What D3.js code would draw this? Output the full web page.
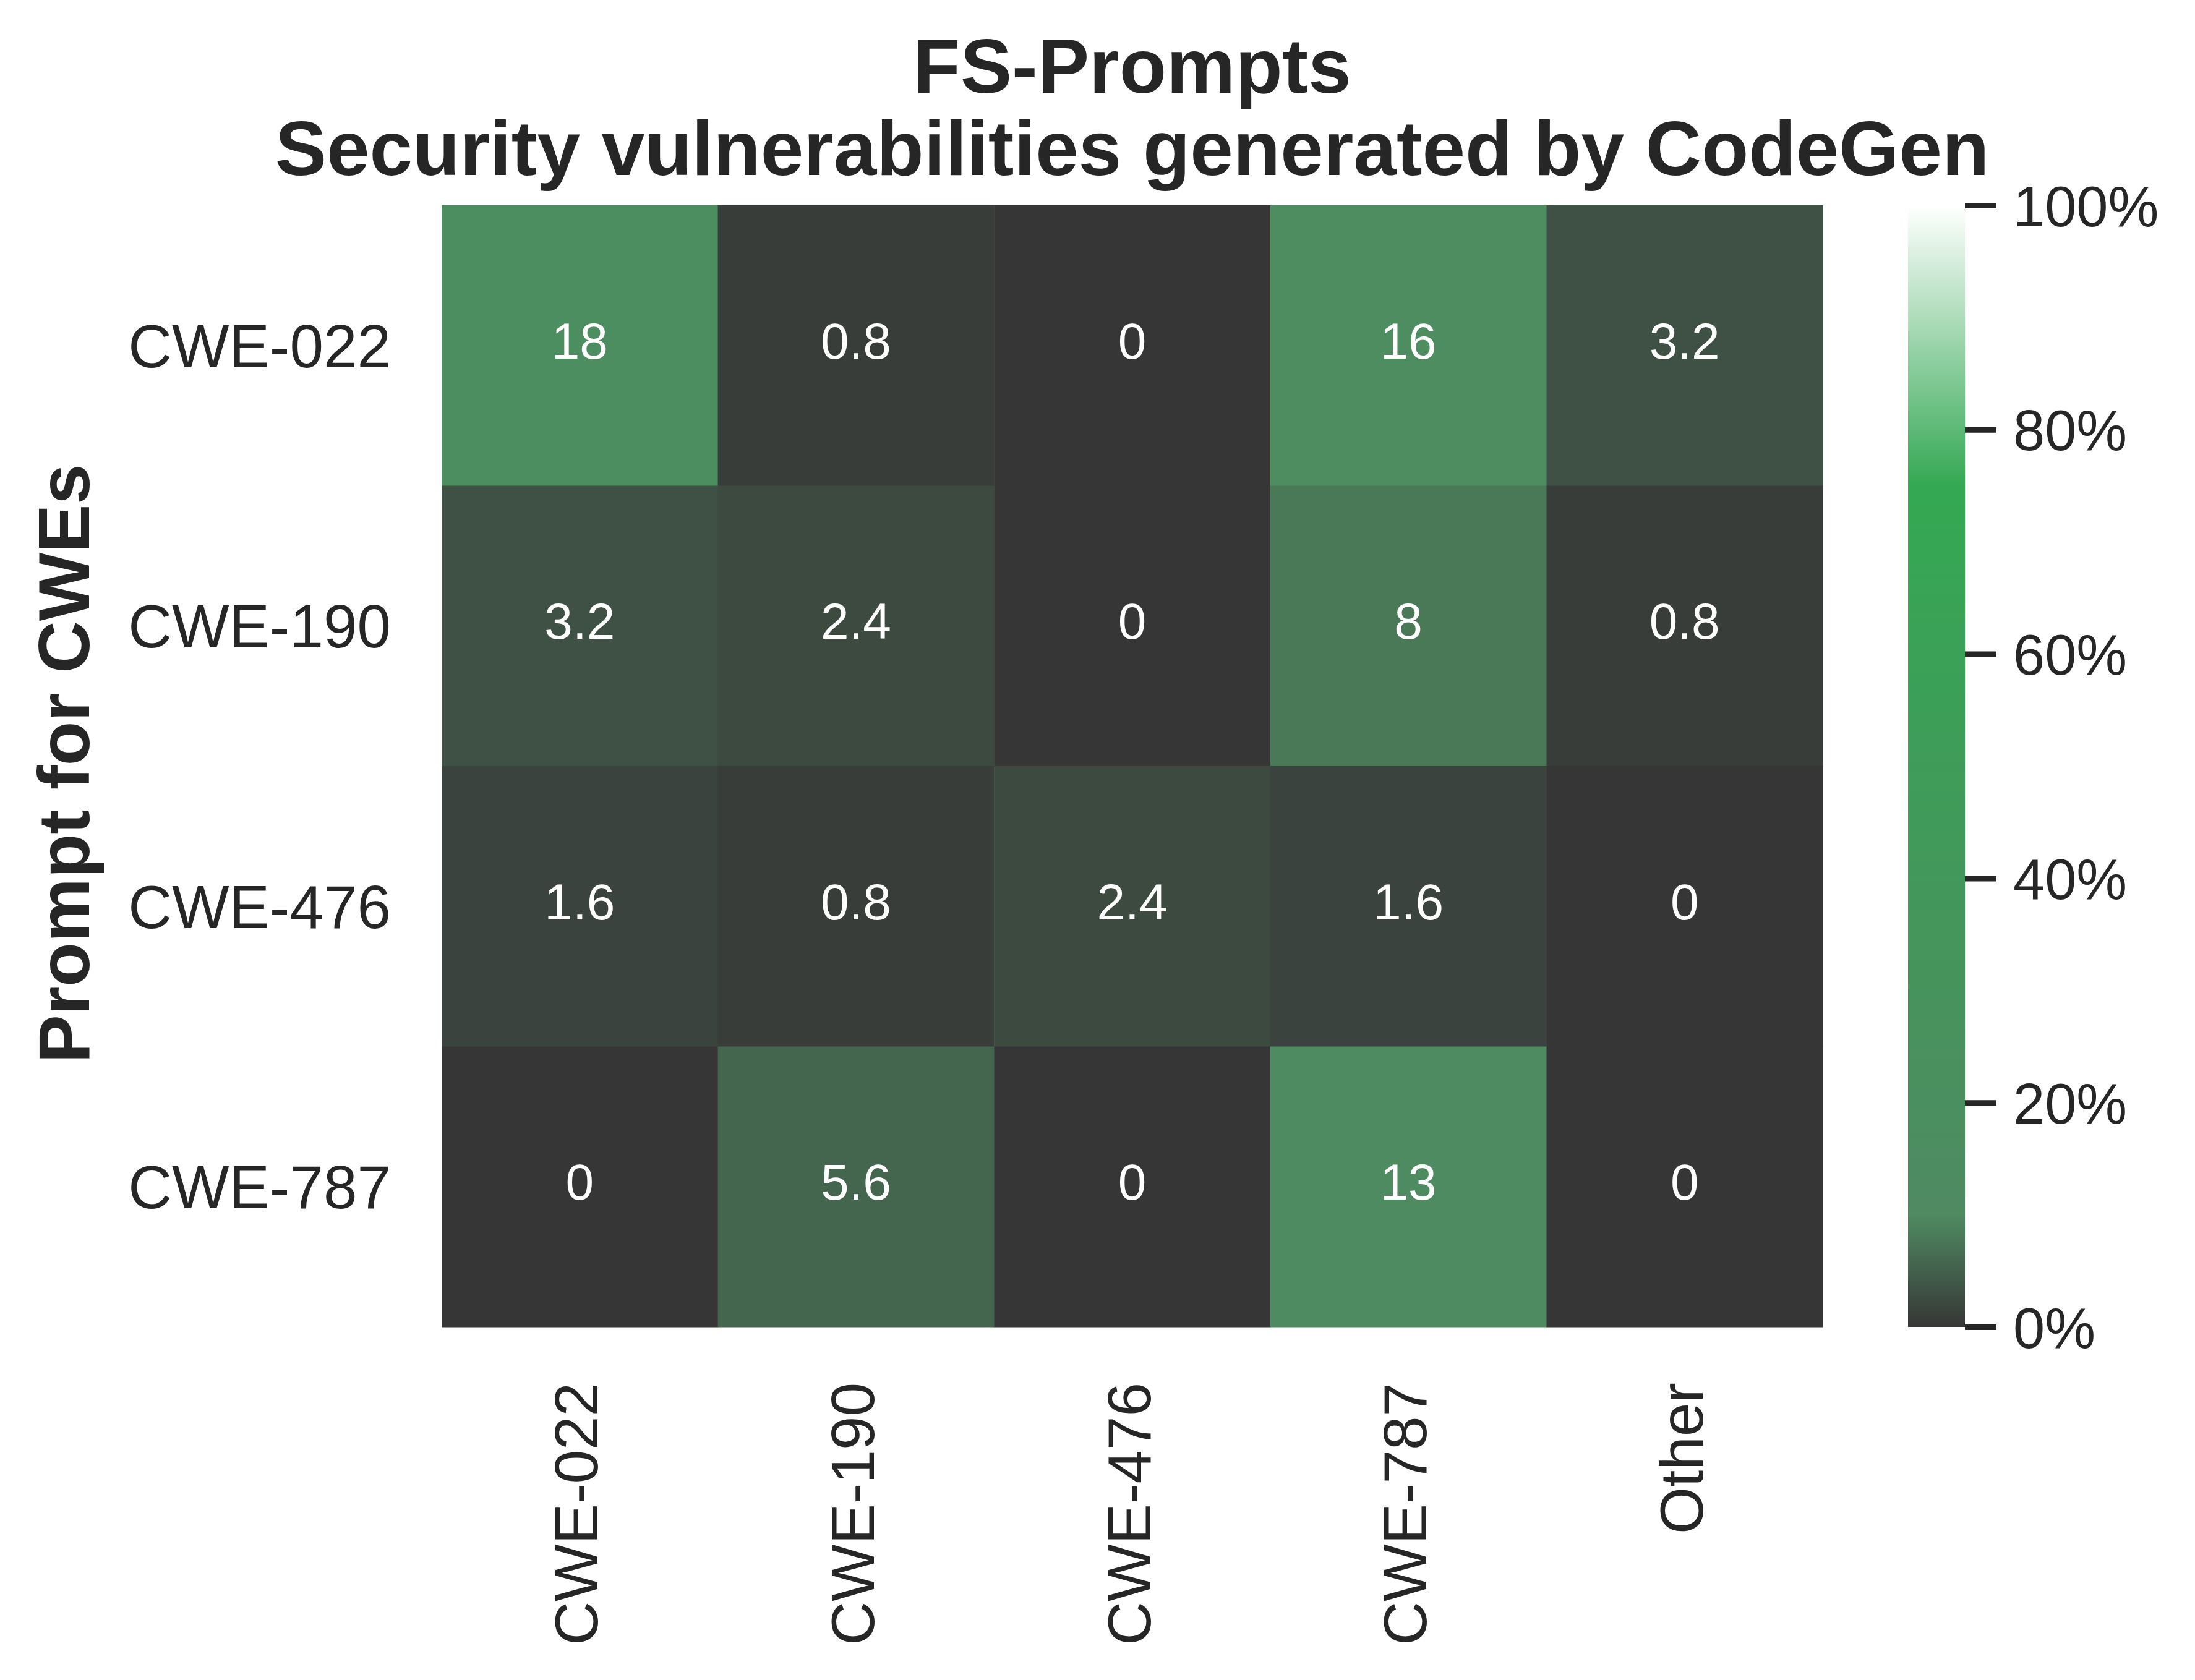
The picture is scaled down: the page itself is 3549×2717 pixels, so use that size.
<!DOCTYPE html>
<html>
<head>
<meta charset="utf-8">
<script src="https://cdn.jsdelivr.net/npm/d3@7"></script>
<style>
  body { margin: 0; background: #fff; }
  text { font-family: "Liberation Sans", Arial, sans-serif; fill: #262626; }
</style>
</head>
<body>
<script>
// Rows (prompt CWE) and columns (detected CWE)
const rowLabels = ["CWE-022", "CWE-190", "CWE-476", "CWE-787"];
const colLabels = ["CWE-022", "CWE-190", "CWE-476", "CWE-787", "Other"];

// Percentages per row
const rowCwe022 = [18, 0.8, 0, 16, 3.2];
const rowCwe190 = [3.2, 2.4, 0, 8, 0.8];
const rowCwe476 = [1.6, 0.8, 2.4, 1.6, 0];
const rowCwe787 = [0, 5.6, 0, 13, 0];
const values = [rowCwe022, rowCwe190, rowCwe476, rowCwe787];

// Colorbar ticks
const cbTicks = [0, 20, 40, 60, 80, 100];

const W = 3549, H = 2717;
const plotLeft = 714, plotRight = 2947, plotTop = 332, plotBottom = 2146;

const svg = d3.select("body").append("svg")
    .attr("width", W)
    .attr("height", H)
    .style("background-color", "#fff");

// Colormap: dark grey -> green -> white
const color = d3.scaleLinear()
    .domain([0, 10, 75, 100])
    .range(["#363636", "#4f8a61", "#34a853", "#ffffff"])
    .interpolate(d3.interpolateRgb)
    .clamp(true);

const x = d3.scaleBand().domain(colLabels).range([plotLeft, plotRight]);
const y = d3.scaleBand().domain(rowLabels).range([plotTop, plotBottom]);

// Cells
const cells = [];
values.forEach((row, i) => row.forEach((v, j) => cells.push({ r: rowLabels[i], c: colLabels[j], v: v })));

svg.append("g").selectAll("rect")
    .data(cells)
    .join("rect")
    .attr("x", d => x(d.c))
    .attr("y", d => y(d.r))
    .attr("width", x.bandwidth() + 0.5)
    .attr("height", y.bandwidth() + 0.5)
    .attr("fill", d => color(d.v));

// Annotations
svg.append("g").selectAll("text")
    .data(cells)
    .join("text")
    .attr("x", d => x(d.c) + x.bandwidth() / 2)
    .attr("y", d => y(d.r) + y.bandwidth() / 2 + 21)
    .attr("text-anchor", "middle")
    .style("font-size", "82px")
    .style("fill", "#ffffff")
    .text(d => String(d.v));

// Y tick labels
svg.append("g").selectAll("text")
    .data(rowLabels)
    .join("text")
    .attr("x", 632)
    .attr("y", d => y(d) + y.bandwidth() / 2 + 35)
    .attr("text-anchor", "end")
    .style("font-size", "98px")
    .text(d => d);

// X tick labels (rotated)
svg.append("g").selectAll("text")
    .data(colLabels)
    .join("text")
    .attr("transform", d => `translate(${x(d) + x.bandwidth() / 2 + 29},2236) rotate(-90)`)
    .attr("text-anchor", "end")
    .style("font-size", "98px")
    .text(d => d);

// Y axis title
svg.append("text")
    .attr("transform", "translate(144,1235) rotate(-90)")
    .attr("text-anchor", "middle")
    .style("font-size", "117px")
    .style("font-weight", "bold")
    .text("Prompt for CWEs");

// Title
const cx = (plotLeft + plotRight) / 2;
svg.append("text")
    .attr("x", cx).attr("y", 150)
    .attr("text-anchor", "middle")
    .style("font-size", "125px")
    .style("font-weight", "bold")
    .text("FS-Prompts");
svg.append("text")
    .attr("x", cx).attr("y", 283)
    .attr("text-anchor", "middle")
    .style("font-size", "125px")
    .style("font-weight", "bold")
    .text("Security vulnerabilities generated by CodeGen");

// Colorbar
const cbX = 3085, cbW = 92;
const cbScale = d3.scaleLinear().domain([0, 100]).range([plotBottom, plotTop]);

const grad = svg.append("defs").append("linearGradient")
    .attr("id", "cbgrad")
    .attr("x1", 0).attr("y1", 1).attr("x2", 0).attr("y2", 0);
grad.selectAll("stop")
    .data(d3.range(0, 101, 1))
    .join("stop")
    .attr("offset", d => d + "%")
    .attr("stop-color", d => color(d));

svg.append("rect")
    .attr("x", cbX)
    .attr("y", plotTop)
    .attr("width", cbW)
    .attr("height", plotBottom - plotTop)
    .attr("fill", "url(#cbgrad)");

const cbAxis = svg.append("g")
    .attr("transform", `translate(${cbX + cbW},0)`)
    .call(d3.axisRight(cbScale).tickValues(cbTicks).tickFormat(d => d + "%").tickSize(51).tickPadding(27));
cbAxis.select(".domain").remove();
cbAxis.selectAll("line").attr("stroke", "#262626").attr("stroke-width", 9);
cbAxis.selectAll("text")
    .attr("dy", "0.36em")
    .attr("fill", "#262626")
    .style("font-size", "92px")
    .style("font-family", "'Liberation Sans', Arial, sans-serif");
</script>
</body>
</html>
